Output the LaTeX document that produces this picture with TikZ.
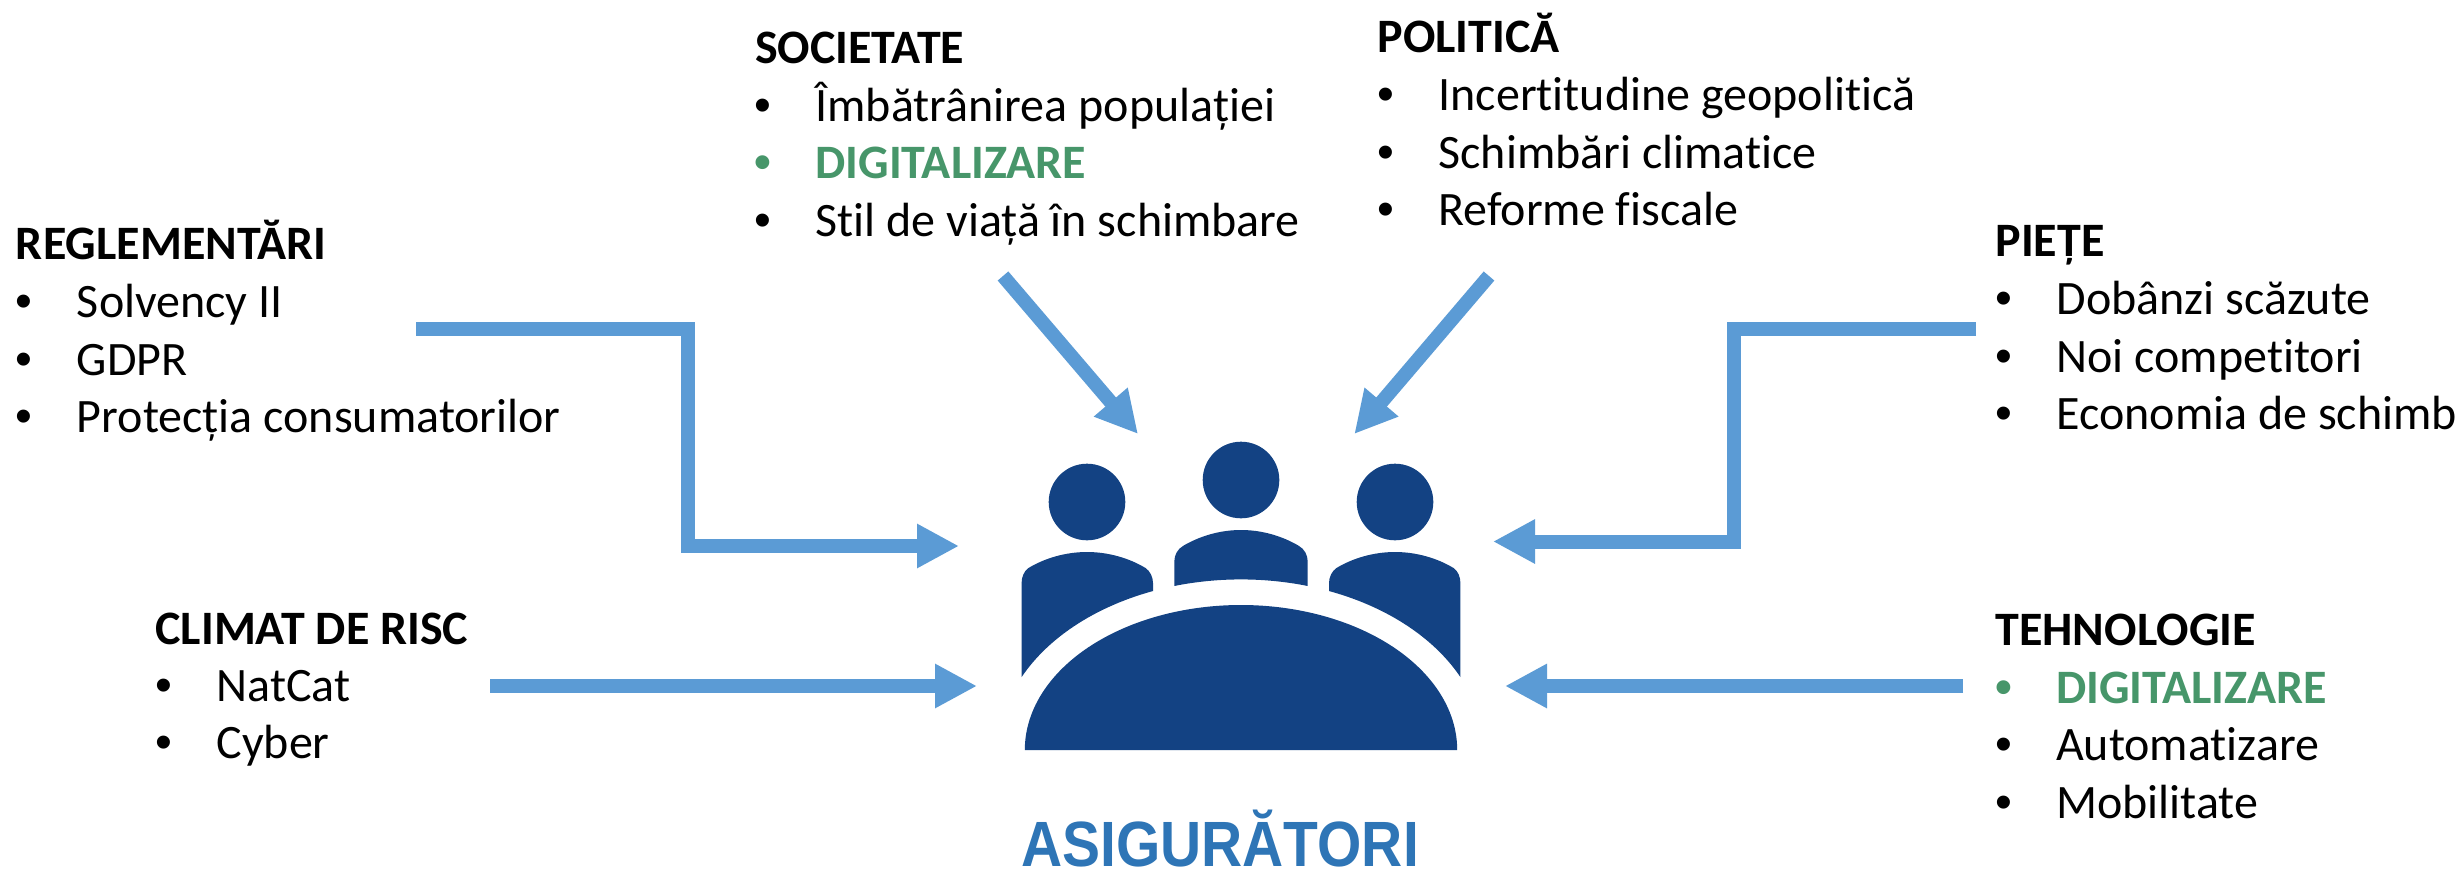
\documentclass[tikz,border=0pt]{standalone}
\usepackage{fontspec}
\setmainfont{Carlito}[Ligatures=NoCommon]
\newfontfamily\titlefont{Liberation Sans}
\usetikzlibrary{arrows.meta}
\definecolor{flowblue}{HTML}{5B9BD5}
\definecolor{iconblue}{HTML}{134283}
\definecolor{titleblue}{HTML}{2E75B6}
\definecolor{digigreen}{HTML}{47966A}
\newcommand{\blt}{\makebox[61pt][l]{\titlefont •}}
\tikzset{
  x=1pt, y=-1pt,
  txt/.style={anchor=base west, inner sep=0pt, outer sep=0pt, font=\fontsize{48}{57}\selectfont, text=black},
  hd/.style={txt, font=\fontsize{48}{57}\selectfont\bfseries},
  dg/.style={txt, font=\fontsize{48}{57}\selectfont\bfseries, text=digigreen},
  flow/.style={draw=flowblue, line width=14pt, line join=miter, line cap=butt, -{Triangle[length=42pt,width=41.5pt]}},
  icon/.style={fill=iconblue, draw=none}
}
\begin{document}
\begin{tikzpicture}
\path[use as bounding box, fill=white] (0,0) rectangle (2461,870);

% text blocks
\node[hd]  (reg)  at (16,259) {REGLEMENTĂRI};
\node[txt] (reg1) at (16,317) {\blt Solvency II};
\node[txt] (reg2) at (16,375) {\blt GDPR};
\node[txt] (reg3) at (16,432) {\blt Protecția consumatorilor};

\node[hd]  (soc)  at (755,63) {SOCIETATE};
\node[txt] (soc1) at (754.5,121) {\blt Îmbătrânirea populației};
\node[dg]  (soc2) at (754.5,178) {\blt DIGITALIZARE};
\node[txt] (soc3) at (754.5,236) {\blt Stil de viață în schimbare};

\node[hd]  (pol)  at (1377.5,52) {POLITICĂ};
\node[txt] (pol1) at (1377.5,110) {\blt Incertitudine geopolitică};
\node[txt] (pol2) at (1377.5,168) {\blt Schimbări climatice};
\node[txt] (pol3) at (1377.5,225) {\blt Reforme fiscale};

\node[hd]  (pie)  at (1995.5,256) {PIEȚE};
\node[txt] (pie1) at (1995.5,314) {\blt Dobânzi scăzute};
\node[txt] (pie2) at (1995.5,372) {\blt Noi competitori};
\node[txt] (pie3) at (1995.5,429) {\blt Economia de schimb};

\node[hd]  (cli)  at (155.5,644) {CLIMAT DE RISC};
\node[txt] (cli1) at (155.5,701) {\blt NatCat};
\node[txt] (cli2) at (155.5,758) {\blt Cyber};

\node[hd]  (teh)  at (1995.5,645) {TEHNOLOGIE};
\node[dg]  (teh1) at (1995,703) {\blt DIGITALIZARE};
\node[txt] (teh2) at (1995,760) {\blt Automatizare};
\node[txt] (teh3) at (1995,818) {\blt Mobilitate};

\node[anchor=base west, inner sep=0pt, text=titleblue] (title) at (1021,866)
  {\scalebox{.89}[1]{\titlefont\bfseries\fontsize{64}{64}\selectfont ASIGURĂTORI}};

% icon
\fill[icon] (1087,502) circle[radius=38.3pt];
\fill[icon] (1241,480) circle[radius=38.3pt];
\fill[icon] (1395,502) circle[radius=38.3pt];
\fill[icon] (1021.6,677) -- (1021.6,583) .. controls (1021.6,577) and (1024,571) .. (1028.5,568)
  .. controls (1045,558) and (1066,552) .. (1087,552) .. controls (1108,552) and (1129,558) .. (1145.5,568)
  .. controls (1150,571) and (1153,577) .. (1153,583) -- (1153,591)
  -- plot[domain=111.3:154.7, samples=30] ({1241+242.7*cos(\x)},{750-170.6*sin(\x)}) -- cycle;
\fill[icon] (1460.4,677) -- (1460.4,583) .. controls (1460.4,577) and (1458,571) .. (1453.5,568)
  .. controls (1437,558) and (1416,552) .. (1395,552) .. controls (1374,552) and (1353,558) .. (1336.5,568)
  .. controls (1332,571) and (1329,577) .. (1329,583) -- (1329,591)
  -- plot[domain=68.7:25.3, samples=30] ({1241+242.7*cos(\x)},{750-170.6*sin(\x)}) -- cycle;
\fill[icon] (1174.3,585.7) -- (1174.3,561.7) .. controls (1174.3,555) and (1177.5,549) .. (1183.4,545.7)
  .. controls (1200,536) and (1220,530) .. (1241,530) .. controls (1262,530) and (1282,536) .. (1298.6,545.7)
  .. controls (1304.5,549) and (1307.7,555) .. (1307.7,561.7) -- (1307.7,585.7)
  -- plot[domain=74.05:105.95, samples=20] ({1241+242.7*cos(\x)},{750-170.6*sin(\x)}) -- cycle;
\fill[icon] plot[domain=0:180, samples=121] ({1241+216.2*cos(\x)},{750-145*sin(\x)}) -- cycle;

% connector ends
\coordinate (regout) at (416,329);
\coordinate (regbend) at (688,546);
\coordinate (regin) at (959,546);
\coordinate (socout) at (1003,276);
\coordinate (socin) at (1138,434);
\coordinate (polout) at (1489,276);
\coordinate (polin) at (1354.3,434);
\coordinate (pieout) at (1976,329);
\coordinate (piebend) at (1734,541.5);
\coordinate (piein) at (1493,541.5);
\coordinate (cliout) at (490,686);
\coordinate (cliin) at (977,686);
\coordinate (tehout) at (1963,686);
\coordinate (tehin) at (1505,686);

\draw[flow] (regout) -| (regbend) -- (regin);
\draw[flow] (socout) -- (socin);
\draw[flow] (polout) -- (polin);
\draw[flow] (pieout) -| (piebend) -- (piein);
\draw[flow] (cliout) -- (cliin);
\draw[flow] (tehout) -- (tehin);
\end{tikzpicture}
\end{document}
